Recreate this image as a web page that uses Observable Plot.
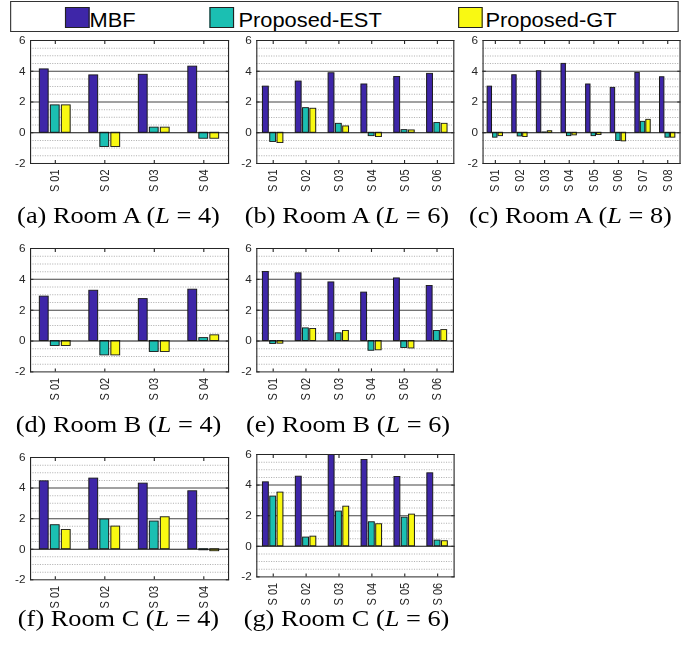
<!DOCTYPE html>
<html><head><meta charset="utf-8">
<script src="https://cdn.jsdelivr.net/npm/d3@7"></script>
<script src="https://cdn.jsdelivr.net/npm/@observablehq/plot@0.6"></script>
<style>
html,body{margin:0;padding:0;background:#fff;}
#root{position:absolute;left:0;top:0;width:620px;height:645px;transform:scaleX(1.12);transform-origin:0 0;}
.abs{position:absolute;}
.cap{position:absolute;font-family:"Liberation Serif","Times New Roman",serif;font-size:23.5px;line-height:23.5px;white-space:nowrap;text-align:center;color:#000;}
.legtxt{position:absolute;font-family:"Liberation Sans",Arial,sans-serif;font-size:19.5px;line-height:19.5px;white-space:nowrap;color:#000;}
.sw{position:absolute;box-sizing:border-box;border:1px solid #222;}
</style></head><body><div id="root"></div><script>
const series = ["MBF", "Proposed-EST", "Proposed-GT"];
const colors = ["#3E26A8", "#1BBFB2", "#F9F912"];

const cats4 = ["S 01", "S 02", "S 03", "S 04"];
const cats6 = ["S 01", "S 02", "S 03", "S 04", "S 05", "S 06"];
const cats8 = ["S 01", "S 02", "S 03", "S 04", "S 05", "S 06", "S 07", "S 08"];

const yTicks = [-2, 0, 2, 4, 6];
const majorGrid = [2, 4];
const minorGrid = [-1.5, -1, -0.5, 0.5, 1, 1.5, 2.5, 3, 3.5, 4.5, 5, 5.5];

const roomA_L4_MBF = [4.12, 3.73, 3.77, 4.30];
const roomA_L4_EST = [1.78, -0.93, 0.33, -0.39];
const roomA_L4_GT  = [1.78, -0.93, 0.33, -0.39];

const roomA_L6_MBF = [3.00, 3.33, 3.87, 3.14, 3.63, 3.83];
const roomA_L6_EST = [-0.60, 1.60, 0.58, -0.22, 0.17, 0.63];
const roomA_L6_GT  = [-0.67, 1.56, 0.41, -0.28, 0.15, 0.58];

const roomA_L8_MBF = [3.00, 3.74, 4.00, 4.48, 3.14, 2.92, 3.89, 3.61];
const roomA_L8_EST = [-0.32, -0.24, 0.02, -0.22, -0.22, -0.54, 0.71, -0.32];
const roomA_L8_GT  = [-0.22, -0.28, 0.10, -0.17, -0.15, -0.56, 0.84, -0.32];

const roomB_L4_MBF = [2.88, 3.26, 2.72, 3.33];
const roomB_L4_EST = [-0.32, -0.93, -0.71, 0.19];
const roomB_L4_GT  = [-0.32, -0.93, -0.71, 0.37];

const roomB_L6_MBF = [4.48, 4.39, 3.80, 3.14, 4.06, 3.57];
const roomB_L6_EST = [-0.19, 0.82, 0.50, -0.63, -0.45, 0.65];
const roomB_L6_GT  = [-0.17, 0.78, 0.65, -0.60, -0.48, 0.71];

const roomC_L4_MBF = [4.44, 4.62, 4.29, 3.79];
const roomC_L4_EST = [1.57, 1.94, 1.81, -0.07];
const roomC_L4_GT  = [1.26, 1.48, 2.09, -0.13];

const roomC_L6_MBF = [4.18, 4.55, 5.97, 5.64, 4.53, 4.77];
const roomC_L6_EST = [3.25, 0.57, 2.27, 1.57, 1.87, 0.37];
const roomC_L6_GT  = [3.51, 0.63, 2.59, 1.44, 2.07, 0.33];

const S = 1.12; // horizontal stretch of the original figure
const root = document.getElementById("root");

// legend
(function legend() {
  const box = document.createElement("div");
  box.className = "abs";
  Object.assign(box.style, {left: (10 / S) + "px", top: "1px", width: (669 / S) + "px", height: "31px",
    boxSizing: "border-box", border: "1px solid #333", background: "#fff"});
  root.appendChild(box);
  const swX = [65, 209, 458], txX = [89.5, 238.5, 485.5];
  series.forEach((s, k) => {
    const sw = document.createElement("div");
    sw.className = "sw";
    Object.assign(sw.style, {left: (swX[k] / S) + "px", top: "7px", width: (25 / S) + "px", height: "21px", background: colors[k]});
    root.appendChild(sw);
    const t = document.createElement("div");
    t.className = "legtxt";
    t.textContent = s;
    Object.assign(t.style, {left: (txX[k] / S) + "px", top: "10.8px"});
    root.appendChild(t);
  });
})();

function panel(p) {
  const {cats, mbf, est, gt, fl, fr, ft, fb, capCx, capBase, tag, room, L} = p;
  const mL = 30, mR = 4, mT = 8, mB = 34;
  const n = cats.length;
  const rows = [];
  cats.forEach((c, i) => [mbf, est, gt].forEach((arr, k) => rows.push({i: i + 1, k, series: series[k], v: arr[i]})));
  const slot = (2 / 3) / 3, bw = 0.8 * slot;
  const idx = cats.map((c, i) => i + 1);
  const chart = Plot.plot({
    width: (fr - fl + mL + mR) / S,
    height: mT + (fb - ft) + mB,
    marginLeft: mL / S, marginRight: mR / S, marginTop: mT, marginBottom: mB,
    x: {domain: [0.5, n + 0.5], label: null},
    y: {domain: [-2, 6], label: null},
    color: {domain: series, range: colors},
    style: {fontFamily: "'Liberation Sans', Arial, sans-serif", fontSize: "10.5px", color: "#262626", background: "transparent", overflow: "visible"},
    marks: [
      Plot.ruleY(minorGrid, {stroke: "#b4b4b4", strokeDasharray: "1,1.2"}),
      Plot.ruleY(majorGrid, {stroke: "#444"}),
      Plot.rectY(rows, {
        x1: d => d.i + (d.k - 1) * slot - bw / 2,
        x2: d => d.i + (d.k - 1) * slot + bw / 2,
        y1: 0, y2: "v", fill: "series", stroke: "#1a1a1a", strokeWidth: 0.9
      }),
      Plot.ruleY([0], {stroke: "#111"}),
      Plot.frame({stroke: "#262626"}),
      Plot.axisY(yTicks, {anchor: "left", label: null, tickSize: 0, tickPadding: 4.5, tickFormat: d => String(d)}),
      Plot.axisY(yTicks, {anchor: "left", label: null, tickSize: 3, dx: 3, tickFormat: () => ""}),
      Plot.axisY(yTicks, {anchor: "right", label: null, tickSize: 3, dx: -3, tickFormat: () => ""}),
      Plot.axisX(idx, {anchor: "bottom", label: null, tickSize: 0, tickPadding: 6, tickRotate: -90, fontSize: 11, tickFormat: i => cats[i - 1]}),
      Plot.axisX(idx, {anchor: "bottom", label: null, tickSize: 3, dy: -3, tickFormat: () => ""}),
      Plot.axisX(idx, {anchor: "top", label: null, tickSize: 3, dy: 3, tickFormat: () => ""})
    ]
  });
  const holder = document.createElement("div");
  holder.className = "abs";
  holder.style.left = ((fl - mL) / S) + "px";
  holder.style.top = (ft - mT) + "px";
  holder.appendChild(chart);
  root.appendChild(holder);

  const cap = document.createElement("div");
  cap.className = "cap";
  cap.style.left = ((capCx - 120) / S) + "px";
  cap.style.width = (240 / S) + "px";
  cap.style.top = (capBase - 19.7) + "px";
  cap.innerHTML = `(${tag}) Room ${room} (<i>L</i> = ${L})`;
  root.appendChild(cap);
}

panel({cats: cats4, mbf: roomA_L4_MBF, est: roomA_L4_EST, gt: roomA_L4_GT, fl: 30, fr: 228, ft: 40, fb: 163, capCx: 118.5, capBase: 224, tag: "a", room: "A", L: 4});
panel({cats: cats6, mbf: roomA_L6_MBF, est: roomA_L6_EST, gt: roomA_L6_GT, fl: 256, fr: 453, ft: 40, fb: 163, capCx: 347, capBase: 224, tag: "b", room: "A", L: 6});
panel({cats: cats8, mbf: roomA_L8_MBF, est: roomA_L8_EST, gt: roomA_L8_GT, fl: 482, fr: 679, ft: 40, fb: 163, capCx: 570.5, capBase: 224, tag: "c", room: "A", L: 8});
panel({cats: cats4, mbf: roomB_L4_MBF, est: roomB_L4_EST, gt: roomB_L4_GT, fl: 30, fr: 228, ft: 248.3, fb: 371.7, capCx: 118.5, capBase: 432.5, tag: "d", room: "B", L: 4});
panel({cats: cats6, mbf: roomB_L6_MBF, est: roomB_L6_EST, gt: roomB_L6_GT, fl: 256.7, fr: 453.3, ft: 248.3, fb: 371.7, capCx: 348, capBase: 432.5, tag: "e", room: "B", L: 6});
panel({cats: cats4, mbf: roomC_L4_MBF, est: roomC_L4_EST, gt: roomC_L4_GT, fl: 30, fr: 228, ft: 456.7, fb: 579, capCx: 118.5, capBase: 627, tag: "f", room: "C", L: 4});
panel({cats: cats6, mbf: roomC_L6_MBF, est: roomC_L6_EST, gt: roomC_L6_GT, fl: 256.7, fr: 454, ft: 454.3, fb: 576.7, capCx: 346.5, capBase: 627, tag: "g", room: "C", L: 6});
</script></body></html>
